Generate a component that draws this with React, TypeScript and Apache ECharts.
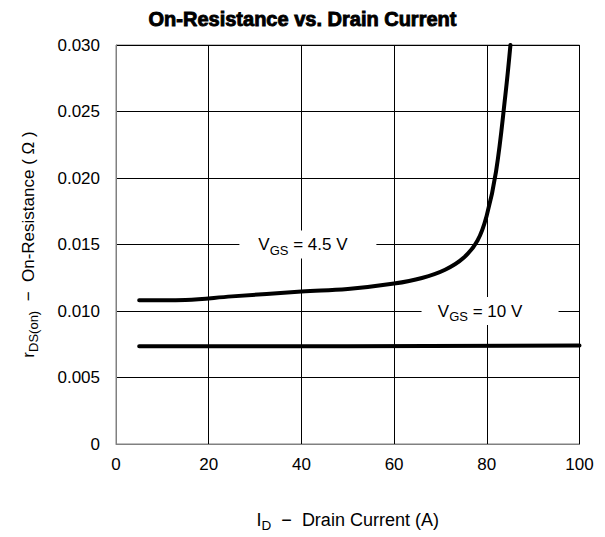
import React, { useEffect, useRef } from "react";
import * as echarts from "echarts";

const xTicks = [0, 20, 40, 60, 80, 100];
const yTicks = [0, 0.005, 0.01, 0.015, 0.02, 0.025, 0.03];

const vgs45Current = [5, 15, 25, 40, 50, 60, 66, 71, 75, 78, 80, 82, 84, 85.1];
const vgs45Res = [0.0108, 0.01083, 0.0111, 0.01146, 0.01165, 0.01206, 0.01248, 0.0131, 0.0140, 0.0153, 0.0172, 0.0205, 0.0262, 0.0300];

const vgs10Current = [5, 50, 100];
const vgs10Res = [0.00735, 0.00735, 0.0074];

const label45 = { text: "VGS = 4.5 V", at: [41.4, 0.015] };
const label10 = { text: "VGS = 10 V", at: [80.7, 0.01] };

const FONT = "'Liberation Sans', Arial, sans-serif";

function vLabel(main: string) {
  return `{m|V}{s|GS}{m|${main}}`;
}

export default function App() {
  const ref = useRef<HTMLDivElement>(null);
  useEffect(() => {
    if (!ref.current) return;
    const chart = echarts.init(ref.current, null, { renderer: "svg" });
    const labelRich = {
      m: { fontSize: 17, fontFamily: FONT, color: "#000", lineHeight: 24, verticalAlign: "middle" },
      s: { fontSize: 13, fontFamily: FONT, color: "#000", lineHeight: 12, verticalAlign: "bottom" },
    };
    const nameRich = {
      m: { fontSize: 18, fontFamily: FONT, color: "#000", lineHeight: 24, verticalAlign: "middle" },
      s: { fontSize: 13.5, fontFamily: FONT, color: "#000", lineHeight: 12, verticalAlign: "bottom" },
    };
    chart.setOption({
      animation: false,
      backgroundColor: "#fff",
      title: {
        text: "On-Resistance vs. Drain Current",
        left: "center",
        top: 4,
        textStyle: {
          fontFamily: FONT,
          fontSize: 20,
          fontWeight: "bold",
          color: "#000",
          textBorderColor: "#000",
          textBorderWidth: 0.9,
        },
      },
      grid: {
        left: 116,
        right: 25.5,
        top: 45,
        bottom: 89,
        show: true,
        borderColor: "#808080",
        borderWidth: 1,
      },
      xAxis: {
        type: "value",
        min: 0,
        max: 100,
        interval: 20,
        name: "{m|I}{s|D}{m|  −  Drain Current (A)}",
        nameLocation: "middle",
        nameGap: 64,
        nameTextStyle: { rich: nameRich },
        axisLine: { show: true, lineStyle: { color: "#808080", width: 1 } },
        axisTick: { show: false },
        axisLabel: { fontFamily: FONT, fontSize: 17, color: "#000", margin: 12 },
        splitLine: { show: true, lineStyle: { color: "#000", width: 1 } },
      },
      yAxis: {
        type: "value",
        min: 0,
        max: 0.03,
        interval: 0.005,
        name: "{m|r}{s|DS(on)}{m|  −  On-Resistance ( Ω )}",
        nameLocation: "middle",
        nameGap: 76,
        nameRotate: 90,
        nameTextStyle: { rich: labelRich },
        axisLine: { show: true, lineStyle: { color: "#808080", width: 1 } },
        axisTick: { show: false },
        axisLabel: {
          fontFamily: FONT,
          fontSize: 17,
          color: "#000",
          margin: 16,
          formatter: (v: number) => (v === 0 ? "0" : v.toFixed(3)),
        },
        splitLine: { show: true, lineStyle: { color: "#000", width: 1 } },
      },
      series: [
        {
          type: "line",
          data: vgs45Current.map((x, i) => [x, vgs45Res[i]]),
          smooth: 0.4,
          symbol: "none",
          clip: true,
          lineStyle: { color: "#000", width: 4, cap: "round" },
          markPoint: {
            symbol: "rect",
            symbolSize: [137, 28],
            itemStyle: { color: "#fff" },
            label: {
              show: true,
              position: "inside",
              offset: [-5, 0],
              formatter: vLabel(" = 4.5 V"),
              rich: labelRich,
            },
            data: [{ coord: label45.at, name: label45.text }],
          },
        },
        {
          type: "line",
          data: vgs10Current.map((x, i) => [x, vgs10Res[i]]),
          smooth: true,
          symbol: "none",
          lineStyle: { color: "#000", width: 4, cap: "round" },
          markPoint: {
            symbol: "rect",
            symbolSize: [137, 28],
            itemStyle: { color: "#fff" },
            label: {
              show: true,
              position: "inside",
              offset: [-10, 0],
              formatter: vLabel(" = 10 V"),
              rich: labelRich,
            },
            data: [{ coord: label10.at, name: label10.text }],
          },
        },
      ],
    });
    return () => chart.dispose();
  }, []);
  return <div ref={ref} style={{ width: 605, height: 537, position: "absolute", left: 0, top: 0 }} />;
}
